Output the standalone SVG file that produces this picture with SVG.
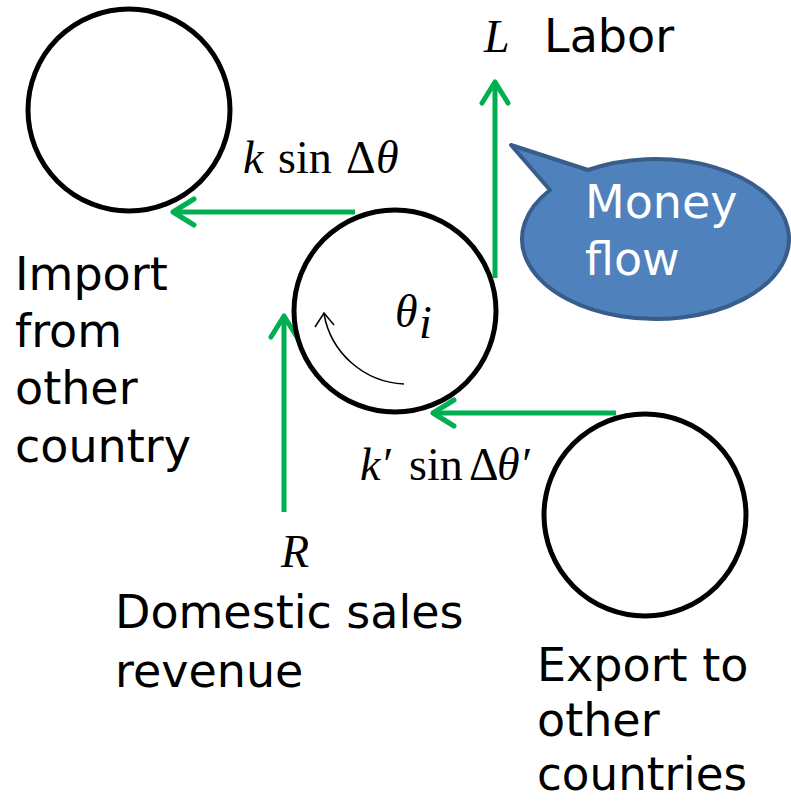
<svg xmlns="http://www.w3.org/2000/svg" width="791" height="802" viewBox="0 0 791 802">
<style>
.node{fill:none;stroke:#000;stroke-width:5}
.flow{fill:none;stroke:#00B050;stroke-width:5;marker-end:url(#ah)}
.lbl{font-family:"DejaVu Sans","Liberation Sans",sans-serif;font-size:46px;fill:#000}
.math{font-family:"Liberation Serif","DejaVu Serif",serif;font-size:46px;fill:#000}
.it{font-style:italic}
</style>
<defs>
<marker id="ah" markerUnits="userSpaceOnUse" viewBox="-26 -18 30 36" refX="0" refY="0" markerWidth="30" markerHeight="36" orient="auto">
<path d="M-21,-13 L0,0 L-21,13" fill="none" stroke="#00B050" stroke-width="5" stroke-linecap="round" stroke-linejoin="round"/>
</marker>
</defs>
<rect width="791" height="802" fill="#fff"/>
<g id="connectors">
<path class="flow" d="M355,212 L173,212"/>
<path class="flow" d="M495,278 L495,82"/>
<path class="flow" d="M284,512 L284,316"/>
<path class="flow" d="M616,413 L433,413"/>
</g>
<g id="import-node">
<circle class="node" cx="129" cy="110" r="101"/>
<text class="lbl" x="15" y="290">Import</text>
<text class="lbl" x="15" y="347">from</text>
<text class="lbl" x="15" y="404">other</text>
<text class="lbl" x="15" y="462">country</text>
</g>
<g id="firm-node">
<circle class="node" cx="395" cy="311" r="101"/>
<path d="M404,384 A85,85 0 0 1 324,314" fill="none" stroke="#000" stroke-width="1.5"/>
<path d="M315,327 L324,313 L334,325" fill="none" stroke="#000" stroke-width="1.5"/>
<text class="math it" x="395" y="327" font-size="42">θ</text>
<text class="math it" x="419" y="338" font-size="32">i</text>
</g>
<g id="export-node">
<circle class="node" cx="645" cy="515" r="101"/>
<text class="lbl" x="537" y="681">Export to</text>
<text class="lbl" x="537" y="736">other</text>
<text class="lbl" x="537" y="790" textLength="210" lengthAdjust="spacingAndGlyphs">countries</text>
</g>
<g id="labor-label">
<text class="math it" x="484" y="52">L</text>
<text class="lbl" x="544" y="52">Labor</text>
</g>
<g id="revenue-label">
<text class="math it" x="281" y="567">R</text>
<text class="lbl" x="115" y="628">Domestic sales</text>
<text class="lbl" x="115" y="687">revenue</text>
</g>
<g id="import-flow-label">
<text class="math it" x="243" y="173">k</text>
<text class="math" x="278" y="173">sin</text>
<text class="math" x="346" y="173">Δ</text>
<text class="math it" x="376" y="173">θ</text>
</g>
<g id="export-flow-label">
<text class="math it" x="360" y="480">k′</text>
<text class="math" x="409" y="480">sin</text>
<text class="math" x="469" y="480">Δ</text>
<text class="math it" x="497" y="480">θ′</text>
</g>
<g id="money-flow-callout">
<path d="M511,145 L588,170 A133.5,80 0 1 1 550,190 Z" fill="#4F81BD" stroke="#385D8A" stroke-width="4" stroke-linejoin="round"/>
<text class="lbl" x="585" y="218" style="fill:#fff">Money</text>
<text class="lbl" x="585" y="275" style="fill:#fff">flow</text>
</g>
</svg>
